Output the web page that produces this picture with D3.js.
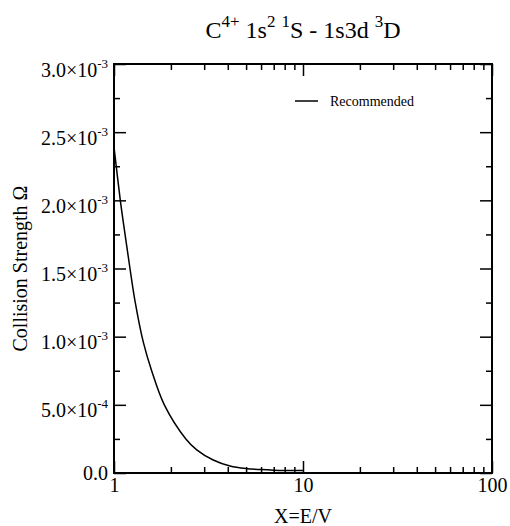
<!DOCTYPE html>
<html>
<head>
<meta charset="utf-8">
<script src="https://cdn.jsdelivr.net/npm/d3@7"></script>
<style>
  html, body { margin: 0; padding: 0; background: #fff; }
  svg { display: block; }
</style>
</head>
<body>
<svg id="chart" width="510" height="526" font-family="'Liberation Serif', 'Times New Roman', serif"></svg>
<script>
// ---- data ----
const energyX = [1, 1.08, 1.144, 1.215, 1.296, 1.429, 1.582, 1.846, 2.4, 2.74, 3.35, 4.11, 5.03, 6, 7, 8, 10];
const omegaRecommended = [2.39e-3, 2.0e-3, 1.75e-3, 1.5e-3, 1.25e-3, 0.96e-3, 0.75e-3, 0.5e-3, 0.25e-3, 0.17e-3, 0.095e-3, 0.051e-3, 0.032e-3, 0.025e-3, 0.021e-3, 0.019e-3, 0.018e-3];
const xMajorTicks = [1, 10, 100];
const xMinorTicks = [2, 3, 4, 5, 6, 7, 8, 9, 20, 30, 40, 50, 60, 70, 80, 90];
const yMajorTicks = [0, 0.5e-3, 1.0e-3, 1.5e-3, 2.0e-3, 2.5e-3, 3.0e-3];
const yMinorTicks = [0.25e-3, 0.75e-3, 1.25e-3, 1.75e-3, 2.25e-3, 2.75e-3];
const seriesName = "Recommended";
const xTitle = "X=E/V";
const yTitle = "Collision Strength Ω";

const FONT = "'Liberation Serif', 'Times New Roman', serif";

// ---- layout ----
const L = 114, R = 492, T = 64, B = 473;
const svg = d3.select("#chart");
const x = d3.scaleLog().domain([1, 100]).range([L, R]);
const y = d3.scaleLinear().domain([0, 3e-3]).range([B, T]);

function styleAxis(g) {
  g.attr("font-family", FONT);
  g.select(".domain").remove();
  g.selectAll(".tick line").attr("stroke", "#000").attr("stroke-width", 1.5);
}

// bottom axis (major with labels)
svg.append("g").attr("transform", `translate(0,${B})`)
  .call(d3.axisBottom(x).tickValues(xMajorTicks).tickSize(-12).tickPadding(5).tickFormat(d3.format("d")))
  .call(styleAxis)
  .call(g => g.attr("font-size", 20).selectAll("text").attr("fill", "#000"));
svg.append("g").attr("transform", `translate(0,${B})`)
  .call(d3.axisBottom(x).tickValues(xMinorTicks).tickSize(-6).tickFormat(""))
  .call(styleAxis);
// top axis
svg.append("g").attr("transform", `translate(0,${T})`)
  .call(d3.axisTop(x).tickValues(xMajorTicks).tickSize(-12).tickFormat(""))
  .call(styleAxis);
svg.append("g").attr("transform", `translate(0,${T})`)
  .call(d3.axisTop(x).tickValues(xMinorTicks).tickSize(-6).tickFormat(""))
  .call(styleAxis);

// left axis
const leftMajor = svg.append("g").attr("transform", `translate(${L},0)`)
  .call(d3.axisLeft(y).tickValues(yMajorTicks).tickSize(-12).tickFormat(""))
  .call(styleAxis);
svg.append("g").attr("transform", `translate(${L},0)`)
  .call(d3.axisLeft(y).tickValues(yMinorTicks).tickSize(-6).tickFormat(""))
  .call(styleAxis);
// right axis
svg.append("g").attr("transform", `translate(${R},0)`)
  .call(d3.axisRight(y).tickValues(yMajorTicks).tickSize(-12).tickFormat(""))
  .call(styleAxis);
svg.append("g").attr("transform", `translate(${R},0)`)
  .call(d3.axisRight(y).tickValues(yMinorTicks).tickSize(-6).tickFormat(""))
  .call(styleAxis);

// custom y tick labels with superscripts
leftMajor.attr("font-size", 20);
leftMajor.selectAll(".tick").each(function(d) {
  const g = d3.select(this);
  g.select("text").remove();
  const t = g.append("text").attr("text-anchor", "end").attr("x", -6)
    .attr("fill", "#000").attr("font-family", FONT).attr("font-size", 20);
  if (d === 0) {
    t.attr("y", 6).text("0.0");
  } else {
    const e = Math.floor(Math.log10(d) + 1e-9);
    const m = d / Math.pow(10, e);
    t.attr("y", 12);
    t.append("tspan").text(m.toFixed(1) + "×10");
    t.append("tspan").attr("dy", -9).attr("font-size", 13).text(String(e));
  }
});

// frame
svg.append("rect").attr("x", L).attr("y", T).attr("width", R - L).attr("height", B - T)
  .attr("fill", "none").attr("stroke", "#000").attr("stroke-width", 2);

// curve
const line = d3.line().x((d, i) => x(energyX[i])).y(d => y(d)).curve(d3.curveCatmullRom.alpha(0.5));
svg.append("path").datum(omegaRecommended).attr("d", line)
  .attr("fill", "none").attr("stroke", "#000").attr("stroke-width", 1.5);

// legend
svg.append("line").attr("x1", 295).attr("x2", 318).attr("y1", 101).attr("y2", 101)
  .attr("stroke", "#000").attr("stroke-width", 1.5);
svg.append("text").attr("x", 330).attr("y", 106).attr("font-size", 14)
  .attr("font-family", FONT).text(seriesName);

// axis titles
svg.append("text").attr("x", (L + R) / 2).attr("y", 523).attr("text-anchor", "middle")
  .attr("font-family", FONT).attr("font-size", 20).text(xTitle);
svg.append("text").attr("transform", `translate(27,${(T + B) / 2}) rotate(-90)`)
  .attr("text-anchor", "middle").attr("font-family", FONT).attr("font-size", 20).text(yTitle);

// title with superscripts
const title = svg.append("text").attr("x", (L + R) / 2).attr("y", 38)
  .attr("text-anchor", "middle").attr("font-family", FONT).attr("font-size", 24)
  .style("white-space", "pre");
const parts = [["C", 0], ["4+", 1], [" 1s", 0], ["2", 1], [" ", 0], ["1", 1], ["S - 1s3d ", 0], ["3", 1], ["D", 0]];
let sup = false;
parts.forEach(([s, isSup]) => {
  const ts = title.append("tspan").text(s);
  if (isSup && !sup) { ts.attr("dy", -11).attr("font-size", 17); sup = true; }
  else if (isSup) { ts.attr("font-size", 17); }
  else if (!isSup && sup) { ts.attr("dy", 11); sup = false; }
});
</script>
</body>
</html>
